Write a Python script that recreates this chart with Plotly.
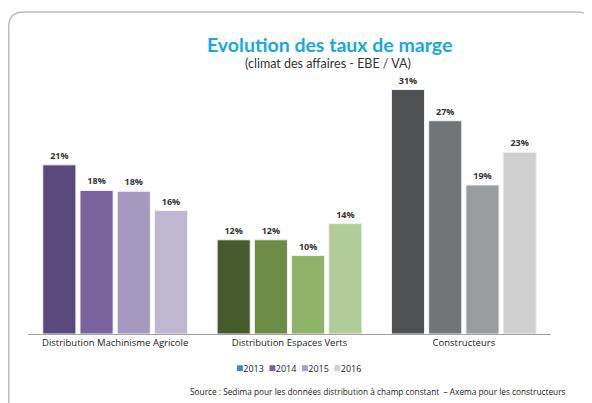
import plotly.graph_objects as go

categories = ["Distribution Machinisme Agricole", "Distribution Espaces Verts", "Constructeurs"]
years = ["2013", "2014", "2015", "2016"]
values = {
    "2013": [21.45, 11.95, 31.0],
    "2014": [18.2, 11.95, 27.05],
    "2015": [18.1, 9.95, 18.9],
    "2016": [15.65, 14.0, 23.05],
}
bar_colors = {
    "2013": ["#5A4A7B", "#475B2E", "#505152"],
    "2014": ["#7A64A0", "#6C8B45", "#727577"],
    "2015": ["#A599BF", "#8FB467", "#9A9D9E"],
    "2016": ["#BFB7D1", "#B1CC98", "#D0D0D0"],
}
legend_colors = {"2013": "#4F81BD", "2014": "#7B5FA5", "2015": "#A99CC8", "2016": "#D0D0D0"}

title = "Evolution des taux de marge"
subtitle = "(climat des affaires - EBE / VA)"
source = "Source : Sedima pour les données distribution à champ constant  – Axema pour les constructeurs"

# page body has an 8px margin; work in reference pixel coords and shift
OFF = 8
W, H = 592 - OFF, 403 - OFF
plot_l, plot_r, plot_t, plot_b = 28.25, 551.25, 58.0, 334.5
L = plot_l - OFF
R = W - (plot_r - OFF)
T = plot_t - OFF
B = H - (plot_b - OFF)
pw, ph = plot_r - plot_l, plot_b - plot_t


def px(x):
    return (x - plot_l) / pw


def py(y):
    return (plot_b - y) / ph


fig = go.Figure()
for yr in years:
    fig.add_trace(go.Bar(
        x=categories, y=values[yr], name=yr, showlegend=False,
        marker=dict(color=bar_colors[yr], line=dict(color="#F2F2F2", width=1)),
        texttemplate="<b>%{y:.0f}%</b>", textposition="outside", cliponaxis=False,
        textfont=dict(family="Open Sans", size=9, color="#333333"),
    ))

fig.update_layout(
    width=W, height=H,
    margin=dict(l=L, r=R, t=T, b=B, pad=0, autoexpand=False),
    paper_bgcolor="white", plot_bgcolor="white",
    barmode="group", bargap=0.146, bargroupgap=0.11,
    xaxis=dict(showline=True, linecolor="#A0A0A0", linewidth=1, ticks="",
               tickfont=dict(family="Open Sans", size=9.5, color="#1A1A1A"),
               fixedrange=True, automargin=False),
    yaxis=dict(range=[0, 35], visible=False, showgrid=False, fixedrange=True),
    showlegend=False,
    font=dict(family="Open Sans"),
)

legend_text = "  ".join(
    f"<span style='color:{legend_colors[yr]};font-size:12px'>■</span>{yr}" for yr in years
)
fig.add_annotation(text=legend_text, xref="paper", yref="paper",
                   x=px(299), y=py(368), xanchor="center", yanchor="middle", showarrow=False,
                   font=dict(family="Open Sans", size=9, color="#222222"))

fig.add_annotation(text="<b>" + title + "</b>", xref="paper", yref="paper",
                   x=px(330), y=py(44), xanchor="center", yanchor="middle", showarrow=False,
                   font=dict(family="Lato", size=19.5, color="#1AA7E1"))
fig.add_annotation(text=subtitle, xref="paper", yref="paper",
                   x=px(328), y=py(64), xanchor="center", yanchor="middle", showarrow=False,
                   font=dict(family="Lato", size=12.5, color="#333333"))
fig.add_annotation(text=source, xref="paper", yref="paper",
                   x=px(378), y=py(392), xanchor="center", yanchor="middle", showarrow=False,
                   font=dict(family="Open Sans", size=8.3, color="#222222"))

# rounded frame
pts = f"M {px(9)},{py(410)} L {px(9)},{py(27)} Q {px(9)},{py(12)} {px(24)},{py(12)} " \
      f"L {px(578)},{py(12)} Q {px(592)},{py(12)} {px(592)},{py(26)}"
fig.add_shape(type="path", path=pts, xref="paper", yref="paper",
              line=dict(color="#BDBDBD", width=1.5))

fig.write_html("out.html")
